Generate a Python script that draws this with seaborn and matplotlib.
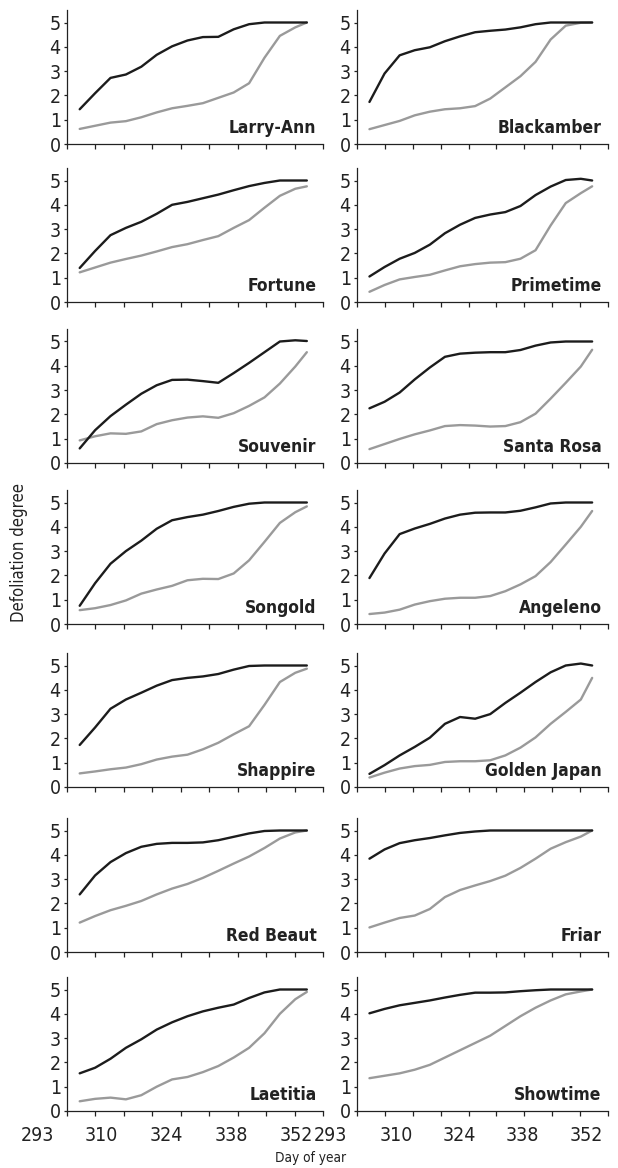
import numpy as np
import pandas as pd
import matplotlib
matplotlib.use("Agg")
import matplotlib.pyplot as plt
import seaborn as sns

# ---------------- data ----------------
days = [293, 297, 301, 305, 309, 313, 317, 321, 325, 329, 333, 337, 341, 345, 349, 352]

cultivars = ["Larry-Ann", "Blackamber", "Fortune", "Primetime", "Souvenir", "Santa Rosa",
             "Songold", "Angeleno", "Shappire", "Golden Japan", "Red Beaut", "Friar",
             "Laetitia", "Showtime"]

larry_ann_black = [1.43, 2.09, 2.72, 2.86, 3.18, 3.67, 4.02, 4.26, 4.40, 4.41, 4.72, 4.93, 5.0, 5.0, 5.0, 5.0]
larry_ann_gray = [0.62, 0.75, 0.88, 0.94, 1.10, 1.30, 1.47, 1.57, 1.68, 1.90, 2.12, 2.50, 3.55, 4.45, 4.80, 5.0]
blackamber_black = [1.73, 2.90, 3.65, 3.86, 3.98, 4.23, 4.43, 4.60, 4.66, 4.71, 4.80, 4.93, 5.0, 5.0, 5.0, 5.0]
blackamber_gray = [0.61, 0.78, 0.95, 1.18, 1.33, 1.43, 1.47, 1.56, 1.87, 2.33, 2.79, 3.38, 4.30, 4.87, 4.99, 5.0]
fortune_black = [1.40, 2.10, 2.75, 3.05, 3.30, 3.63, 4.00, 4.12, 4.27, 4.42, 4.60, 4.77, 4.90, 5.0, 5.0, 5.0]
fortune_gray = [1.22, 1.42, 1.62, 1.77, 1.91, 2.08, 2.26, 2.38, 2.55, 2.71, 3.05, 3.37, 3.88, 4.37, 4.66, 4.76]
primetime_black = [1.05, 1.44, 1.78, 2.02, 2.36, 2.83, 3.18, 3.46, 3.60, 3.70, 3.95, 4.40, 4.75, 5.02, 5.07, 5.0]
primetime_gray = [0.42, 0.70, 0.93, 1.03, 1.12, 1.30, 1.47, 1.56, 1.62, 1.64, 1.78, 2.13, 3.15, 4.07, 4.48, 4.76]
souvenir_black = [0.60, 1.35, 1.93, 2.40, 2.85, 3.20, 3.42, 3.43, 3.37, 3.30, 3.70, 4.12, 4.56, 5.0, 5.05, 5.02]
souvenir_gray = [0.93, 1.10, 1.22, 1.20, 1.30, 1.60, 1.76, 1.87, 1.92, 1.86, 2.05, 2.35, 2.70, 3.27, 3.97, 4.56]
santa_rosa_black = [2.25, 2.52, 2.90, 3.44, 3.93, 4.37, 4.50, 4.54, 4.56, 4.56, 4.65, 4.83, 4.96, 5.0, 5.0, 5.0]
santa_rosa_gray = [0.57, 0.78, 0.99, 1.18, 1.34, 1.52, 1.56, 1.54, 1.50, 1.52, 1.68, 2.03, 2.65, 3.30, 3.97, 4.66]
songold_black = [0.75, 1.68, 2.48, 3.00, 3.43, 3.92, 4.27, 4.40, 4.50, 4.65, 4.82, 4.95, 5.0, 5.0, 5.0, 5.0]
songold_gray = [0.57, 0.65, 0.78, 0.97, 1.25, 1.42, 1.57, 1.80, 1.86, 1.85, 2.08, 2.62, 3.38, 4.16, 4.60, 4.84]
angeleno_black = [1.89, 2.90, 3.70, 3.93, 4.12, 4.34, 4.50, 4.58, 4.59, 4.59, 4.66, 4.80, 4.96, 5.0, 5.0, 5.0]
angeleno_gray = [0.41, 0.47, 0.59, 0.80, 0.94, 1.04, 1.08, 1.08, 1.15, 1.35, 1.63, 1.97, 2.55, 3.27, 4.00, 4.65]
shappire_black = [1.73, 2.45, 3.22, 3.60, 3.88, 4.17, 4.40, 4.49, 4.55, 4.65, 4.83, 4.98, 5.0, 5.0, 5.0, 5.0]
shappire_gray = [0.56, 0.64, 0.73, 0.80, 0.94, 1.13, 1.25, 1.33, 1.55, 1.82, 2.17, 2.50, 3.38, 4.32, 4.70, 4.87]
golden_japan_black = [0.54, 0.90, 1.30, 1.65, 2.03, 2.60, 2.88, 2.81, 3.00, 3.46, 3.88, 4.32, 4.72, 5.0, 5.08, 5.0]
golden_japan_gray = [0.39, 0.59, 0.76, 0.86, 0.91, 1.03, 1.06, 1.06, 1.10, 1.30, 1.62, 2.04, 2.60, 3.09, 3.60, 4.49]
red_beaut_black = [2.37, 3.15, 3.70, 4.07, 4.33, 4.45, 4.49, 4.49, 4.51, 4.60, 4.74, 4.88, 4.98, 5.0, 5.0, 5.0]
red_beaut_gray = [1.21, 1.48, 1.72, 1.90, 2.10, 2.37, 2.61, 2.80, 3.05, 3.34, 3.64, 3.93, 4.28, 4.67, 4.92, 5.0]
friar_black = [3.84, 4.22, 4.48, 4.60, 4.69, 4.80, 4.90, 4.96, 5.0, 5.0, 5.0, 5.0, 5.0, 5.0, 5.0, 5.0]
friar_gray = [1.01, 1.21, 1.40, 1.50, 1.77, 2.26, 2.55, 2.74, 2.92, 3.14, 3.46, 3.84, 4.25, 4.52, 4.75, 5.0]
laetitia_black = [1.55, 1.78, 2.15, 2.60, 2.95, 3.35, 3.65, 3.90, 4.10, 4.25, 4.38, 4.65, 4.88, 5.0, 5.0, 5.0]
laetitia_gray = [0.40, 0.50, 0.55, 0.48, 0.65, 1.00, 1.30, 1.40, 1.60, 1.85, 2.20, 2.60, 3.20, 4.00, 4.60, 4.90]
showtime_black = [4.02, 4.20, 4.35, 4.45, 4.55, 4.67, 4.78, 4.87, 4.87, 4.88, 4.93, 4.97, 5.0, 5.0, 5.0, 5.0]
showtime_gray = [1.35, 1.45, 1.55, 1.70, 1.90, 2.20, 2.50, 2.80, 3.10, 3.50, 3.90, 4.25, 4.55, 4.80, 4.92, 5.0]

black_series = [larry_ann_black, blackamber_black, fortune_black, primetime_black, souvenir_black,
                santa_rosa_black, songold_black, angeleno_black, shappire_black, golden_japan_black,
                red_beaut_black, friar_black, laetitia_black, showtime_black]
gray_series = [larry_ann_gray, blackamber_gray, fortune_gray, primetime_gray, souvenir_gray,
               santa_rosa_gray, songold_gray, angeleno_gray, shappire_gray, golden_japan_gray,
               red_beaut_gray, friar_gray, laetitia_gray, showtime_gray]

x_tick_labels = ["293", "310", "324", "338", "352"]
y_ticks = [0, 1, 2, 3, 4, 5]

# ---------------- style ----------------
sns.set_style("ticks")
plt.rcParams["font.family"] = ["DejaVu Sans"]
plt.rcParams["font.stretch"] = "condensed"
plt.rcParams["axes.linewidth"] = 0.9

W, H = 618, 1168
fig = plt.figure(figsize=(W / 100, H / 100), dpi=100)

zero_rows = [144, 302, 463, 624, 787, 952, 1111]
unit_px = 24.3
ax_h = 5.5 * unit_px
cols = [(67, 256), (357, 251)]
xmin, xmax = 289.7, 356.2
label_frac = [[-0.117, 0.133, 0.387, 0.641, 0.895], [-0.104, 0.155, 0.406, 0.657, 0.912]]

line_colors = {"black": "#1c1c1c", "gray": "#9a9a9a"}
fs_tick = 14
fs_name = 12.5

for i, name in enumerate(cultivars):
    r, c = divmod(i, 2)
    x0, wpx = cols[c]
    y_bottom = H - zero_rows[r]
    ax = fig.add_axes([x0 / W, y_bottom / H, wpx / W, ax_h / H])
    df = pd.DataFrame({
        "day": days * 2,
        "degree": gray_series[i] + black_series[i],
        "series": ["gray"] * len(days) + ["black"] * len(days),
    })
    sns.lineplot(data=df, x="day", y="degree", hue="series", palette=line_colors,
                 estimator=None, sort=False, linewidth=1.7, legend=False, ax=ax)
    ax.set_xlim(xmin, xmax)
    ax.set_ylim(0, 5.5)
    ax.set_xticks(np.linspace(xmin, xmax, 10))
    ax.set_xticklabels([])
    ax.set_yticks(y_ticks)
    ax.set_yticklabels([str(v) for v in y_ticks])
    ax.tick_params(axis="x", direction="out", length=3.5, width=0.9, color="#222222")
    ax.tick_params(axis="y", direction="out", length=2.5, width=0.9, color="#222222",
                   labelsize=fs_tick, pad=2, labelcolor="#222222")
    ax.set_xlabel("")
    ax.set_ylabel("")
    for s in ["top", "right"]:
        ax.spines[s].set_visible(False)
    for s in ["left", "bottom"]:
        ax.spines[s].set_color("#222222")
    ax.text(0.975, 0.05, name, transform=ax.transAxes, ha="right", va="bottom",
            fontsize=fs_name, fontweight="bold", color="#222222")
    if r == 6:
        for lab, fx in zip(x_tick_labels, label_frac[c]):
            ax.text(fx, -0.11, lab, transform=ax.transAxes, ha="center", va="top",
                    fontsize=fs_tick, color="#222222", clip_on=False)

fig.text(19 / W, 1 - 553 / H, "Defoliation degree", rotation=90, ha="center", va="center",
         fontsize=12, color="#222222")
fig.text(311 / W, 1 - 1158 / H, "Day of year", ha="center", va="center",
         fontsize=9.8, color="#222222")

fig.savefig("out.png", dpi=100)
